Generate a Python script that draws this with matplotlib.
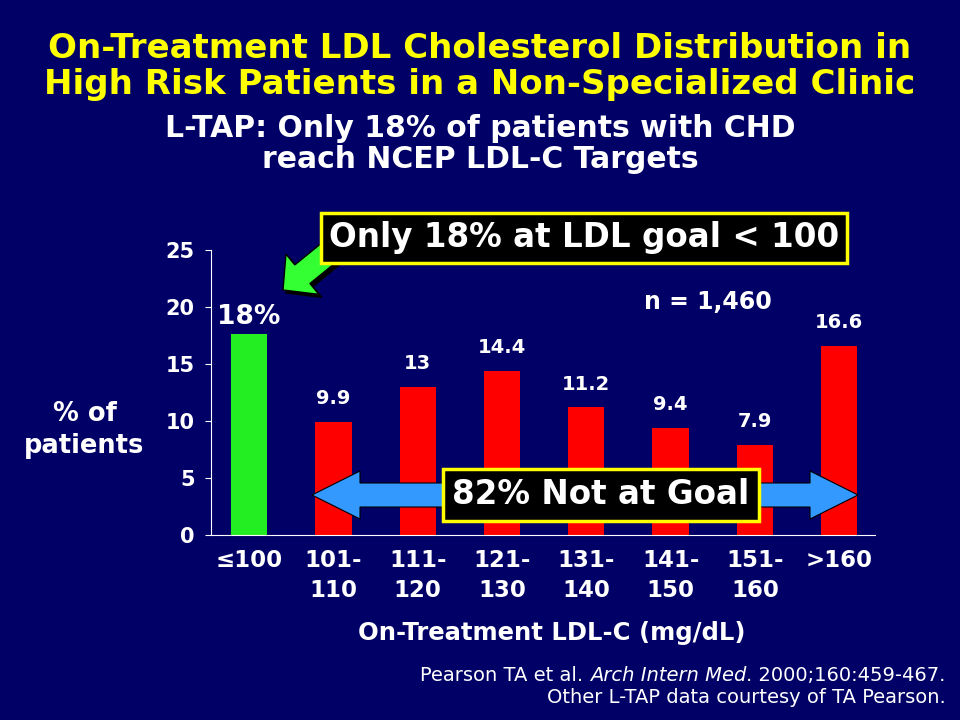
import numpy as np
import matplotlib.pyplot as plt
from matplotlib.patches import FancyArrow, Polygon

plt.rcParams['font.family'] = ['DejaVu Sans']

categories = ['\u2264100', '101-\n110', '111-\n120', '121-\n130', '131-\n140', '141-\n150', '151-\n160', '>160']
pct_patients = [17.6, 9.9, 13, 14.4, 11.2, 9.4, 7.9, 16.6]
bar_labels = ['18%', '9.9', '13', '14.4', '11.2', '9.4', '7.9', '16.6']
yticks = [0, 5, 10, 15, 20, 25]

bg = '#000066'
fig = plt.figure(figsize=(9.6, 7.2), dpi=100, facecolor=bg)
ax = fig.add_axes([0.22, 0.257, 0.691, 0.396], facecolor=bg)

x = np.arange(len(categories))
colors = ['#22ee22'] + ['#ff0000'] * (len(categories) - 1)
ax.bar(x, pct_patients, width=0.43, color=colors, zorder=2)

for i, (v, lab) in enumerate(zip(pct_patients, bar_labels)):
    if i == 0:
        ax.text(i, v + 0.4, lab, ha='center', va='bottom', color='white',
                fontsize=19, fontweight='bold')
    else:
        ax.text(i, v + 1.2, lab, ha='center', va='bottom', color='white',
                fontsize=14, fontweight='bold')

ax.set_xlim(-0.45, 7.42)
ax.set_ylim(0, 25)
ax.set_yticks(yticks)
ax.set_xticks(x)
ax.set_xticklabels(categories, linespacing=1.4)
for s in ['top', 'right']:
    ax.spines[s].set_visible(False)
for s in ['left', 'bottom']:
    ax.spines[s].set_color('white')
ax.tick_params(axis='y', colors='white', labelsize=15, length=4, pad=8)
ax.tick_params(axis='x', colors='white', labelsize=16.5, length=0, pad=10)
for t in ax.get_xticklabels() + ax.get_yticklabels():
    t.set_fontweight('bold')

# titles
fig.text(0.5, 0.956, 'On-Treatment LDL Cholesterol Distribution in\nHigh Risk Patients in a Non-Specialized Clinic',
         ha='center', va='top', color='#ffff00', fontsize=24.5, fontweight='bold', linespacing=1.12)
fig.text(0.5, 0.842, 'L-TAP: Only 18% of patients with CHD\nreach NCEP LDL-C Targets',
         ha='center', va='top', color='white', fontsize=21.5, fontweight='bold', linespacing=1.1)

fig.text(0.088, 0.403, '% of\npatients', ha='center', va='center', color='white',
         fontsize=18.5, fontweight='bold', linespacing=1.3)
fig.text(0.575, 0.121, 'On-Treatment LDL-C (mg/dL)', ha='center', va='center',
         color='white', fontsize=17.5, fontweight='bold')

ax.text(5.44, 20.4, 'n = 1,460', ha='center', va='center', color='white',
        fontsize=17, fontweight='bold')

# overlay in pixel units for the callout shapes
ov = fig.add_axes([0, 0, 1, 1], facecolor='none')
ov.set_xlim(0, 960)
ov.set_ylim(720, 0)
ov.axis('off')

# green arrow (with dark shadow) pointing at the first bar
arrow_kw = dict(width=24, head_width=52, head_length=25, length_includes_head=True, lw=1)
ov.add_patch(FancyArrow(340, 249, -54, 44, fc='black', ec='black', zorder=4, **arrow_kw))
ov.add_patch(FancyArrow(337, 246, -54, 44, fc='#33ff33', ec='black', zorder=5, **arrow_kw))

# top callout
ov.text(584, 238, 'Only 18% at LDL goal < 100', ha='center', va='center',
        color='white', fontsize=23.5, fontweight='bold', zorder=6,
        bbox=dict(boxstyle='square,pad=0.25', fc='black', ec='#ffff00', lw=2.5))

# blue double arrow
xl, xr, yc = 312, 858, 495
shaft, head_h, head_l = 12, 24, 48
pts = [(xl, yc), (xl + head_l, yc - head_h), (xl + head_l, yc - shaft),
       (xr - head_l, yc - shaft), (xr - head_l, yc - head_h), (xr, yc),
       (xr - head_l, yc + head_h), (xr - head_l, yc + shaft),
       (xl + head_l, yc + shaft), (xl + head_l, yc + head_h)]
ov.add_patch(Polygon(pts, closed=True, fc='#3399ff', ec='black', lw=0.8, zorder=5))

ov.text(601, 495, '82% Not at Goal', ha='center', va='center',
        color='white', fontsize=23.5, fontweight='bold', zorder=6,
        bbox=dict(boxstyle='square,pad=0.28', fc='black', ec='#ffff00', lw=2.5))

# citation
fig.canvas.draw()
r = fig.canvas.get_renderer()
parts = [('Pearson TA et al. ', 'normal'), ('Arch Intern Med', 'italic'), ('. 2000;160:459-467.', 'normal')]
xpos = 0.985
for txt, st in reversed(parts):
    t = fig.text(xpos, 0.062, txt, ha='right', va='center', color='white', fontsize=14, style=st)
    bb = t.get_window_extent(r)
    xpos -= bb.width / fig.bbox.width
fig.text(0.985, 0.031, 'Other L-TAP data courtesy of TA Pearson.', ha='right', va='center',
         color='white', fontsize=14)

fig.savefig('out.png', dpi=100, facecolor=bg)
